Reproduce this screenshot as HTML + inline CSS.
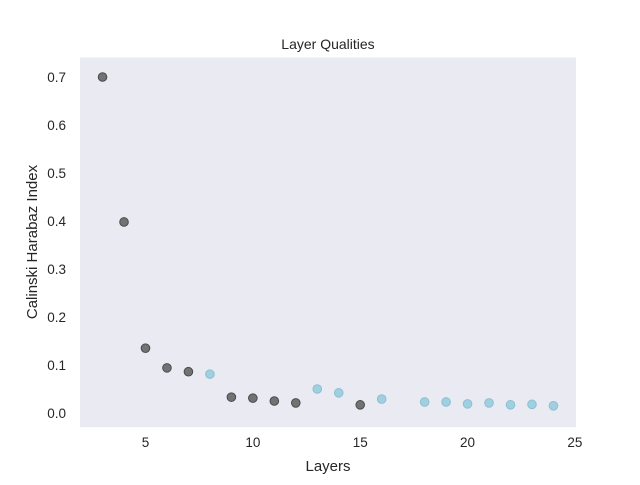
<!DOCTYPE html>
<html><head><meta charset="utf-8"><style>
body{margin:0;background:#fff;font-family:"Liberation Sans",sans-serif}
text{font-family:"Liberation Sans",sans-serif;fill:#262626}
</style></head><body>
<svg id="chart" width="640" height="480">
<rect x="80" y="57.6" width="496" height="369.6" fill="#eaeaf2"/>
<text x="328" y="49" font-size="14" text-anchor="middle">Layer Qualities</text>
<text x="328" y="471" font-size="15" text-anchor="middle">Layers</text>
<text transform="translate(37,242) rotate(-90)" font-size="15" text-anchor="middle">Calinski Harabaz Index</text>
<g id="ticks"></g><g id="marks"></g>
</svg>
<script>
const layers=[3,4,5,6,7,8,9,10,11,12,13,14,15,16,18,19,20,21,22,23,24];
const scores=[0.70,0.398,0.135,0.094,0.086,0.081,0.033,0.031,0.025,0.021,0.050,0.042,0.017,0.029,0.023,0.023,0.019,0.021,0.017,0.018,0.015];
const groups=["d","d","d","d","d","b","d","d","d","d","b","b","d","b","b","b","b","b","b","b","b"];
const xTicks=[5,10,15,20,25];
const yTicks=[0.0,0.1,0.2,0.3,0.4,0.5,0.6,0.7];
const xs=v=>80+(v-1.95)*496/23.1;
const ys=v=>413-v*480;
const NS="http://www.w3.org/2000/svg";
const tg=document.getElementById('ticks'),mg=document.getElementById('marks');
xTicks.forEach(t=>{const e=document.createElementNS(NS,'text');
e.setAttribute('x',xs(t));e.setAttribute('y',447);e.setAttribute('font-size','13.5');e.setAttribute('text-anchor','middle');


e.textContent=t;tg.appendChild(e);});
yTicks.forEach(t=>{const e=document.createElementNS(NS,'text');
e.setAttribute('x',66);e.setAttribute('y',ys(t)+5);e.setAttribute('font-size','13.5');e.setAttribute('text-anchor','end');


e.textContent=t.toFixed(1);tg.appendChild(e);});
layers.forEach((l,i)=>{const c=document.createElementNS(NS,'circle');
c.setAttribute('cx',xs(l));c.setAttribute('cy',ys(scores[i]));c.setAttribute('r',4.3);
c.setAttribute('fill',groups[i]==='d'?'#727275':'#a0cfe0');
c.setAttribute('stroke',groups[i]==='d'?'#4a4a4c':'#8bbfd3');
c.setAttribute('stroke-width','1');


mg.appendChild(c);});
</script>
</body></html>
